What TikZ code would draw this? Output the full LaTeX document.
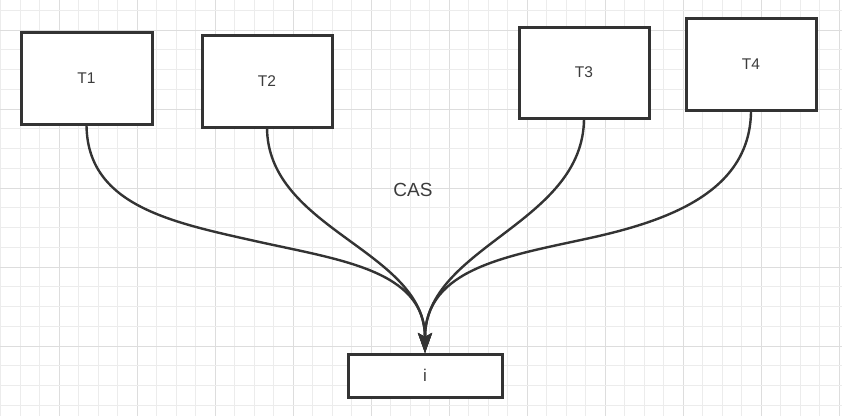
\documentclass[tikz,border=0pt]{standalone}
\usepackage{fontspec}
\setmainfont{Liberation Sans}
\usetikzlibrary{arrows.meta}
\definecolor{gridminor}{HTML}{ECECEC}
\definecolor{gridmajor}{HTML}{DDDDDD}
\definecolor{ink}{HTML}{333333}
\definecolor{txt}{HTML}{3C3C3C}
\tikzset{
  tbox/.style={draw=ink, line width=3pt, fill=white, minimum width=130pt, minimum height=92pt, inner sep=0pt, text=txt, font=\fontsize{15.5}{17}\selectfont},
  ibox/.style={draw=ink, line width=3pt, fill=white, minimum width=154pt, minimum height=43pt, inner sep=0pt, text=txt, font=\fontsize{17}{19}\selectfont},
  flow/.style={draw=ink, line width=2.4pt, -{Stealth[length=20pt, width=14pt, inset=4pt]}},
  lbl/.style={text=txt, font=\fontsize{19}{21}\selectfont, inner sep=0pt}
}
\begin{document}
\begin{tikzpicture}[x=1pt, y=-1pt]
\useasboundingbox (0,0) rectangle (842,416);
\fill[white] (0,0) rectangle (842,416);
% grid
\foreach \k in {0,...,43}{
  \pgfmathtruncatemacro{\m}{mod(\k,4)}
  \pgfmathsetmacro{\xx}{0.5+19.5*\k}
  \ifnum\m=3
    \draw[gridmajor, line width=1pt] (\xx,0) -- (\xx,416);
  \else
    \draw[gridminor, line width=1pt] (\xx,0) -- (\xx,416);
  \fi
}
\foreach \k in {0,...,20}{
  \pgfmathtruncatemacro{\m}{mod(\k,4)}
  \pgfmathsetmacro{\yy}{10.25+19.75*\k}
  \ifnum\m=1
    \draw[gridmajor, line width=1pt] (0,\yy) -- (842,\yy);
  \else
    \draw[gridminor, line width=1pt] (0,\yy) -- (842,\yy);
  \fi
}
% connectors first (boxes drawn over)
\coordinate (iTop) at (425,353);
\coordinate (s1) at (86.5,124);
\coordinate (s2) at (267,127);
\coordinate (s3) at (584,118);
\coordinate (s4) at (751,110);
\draw[flow] (s1) .. controls (86.5,205) and (170,222) .. (255,241) .. controls (340,260) and (425,270) .. (iTop);
\draw[flow] (s2) .. controls (267,230) and (425,250) .. (iTop);
\draw[flow] (s3) .. controls (584,224) and (425,246) .. (iTop);
\draw[flow] (s4) .. controls (751,190) and (672,220) .. (590,238) .. controls (508,256) and (425,268) .. (iTop);
% boxes
\node[tbox, minimum width=131pt] (T1) at (86.5,78) {T1};
\node[tbox] (T2) at (267,81) {T2};
\node[tbox, minimum height=91pt] (T3) at (584,72.5) {T3};
\node[tbox] (T4) at (751,64) {T4};
\node[ibox] (I) at (425,375.5) {i};
\node[lbl] (cas) at (413,190) {CAS};
\end{tikzpicture}
\end{document}
